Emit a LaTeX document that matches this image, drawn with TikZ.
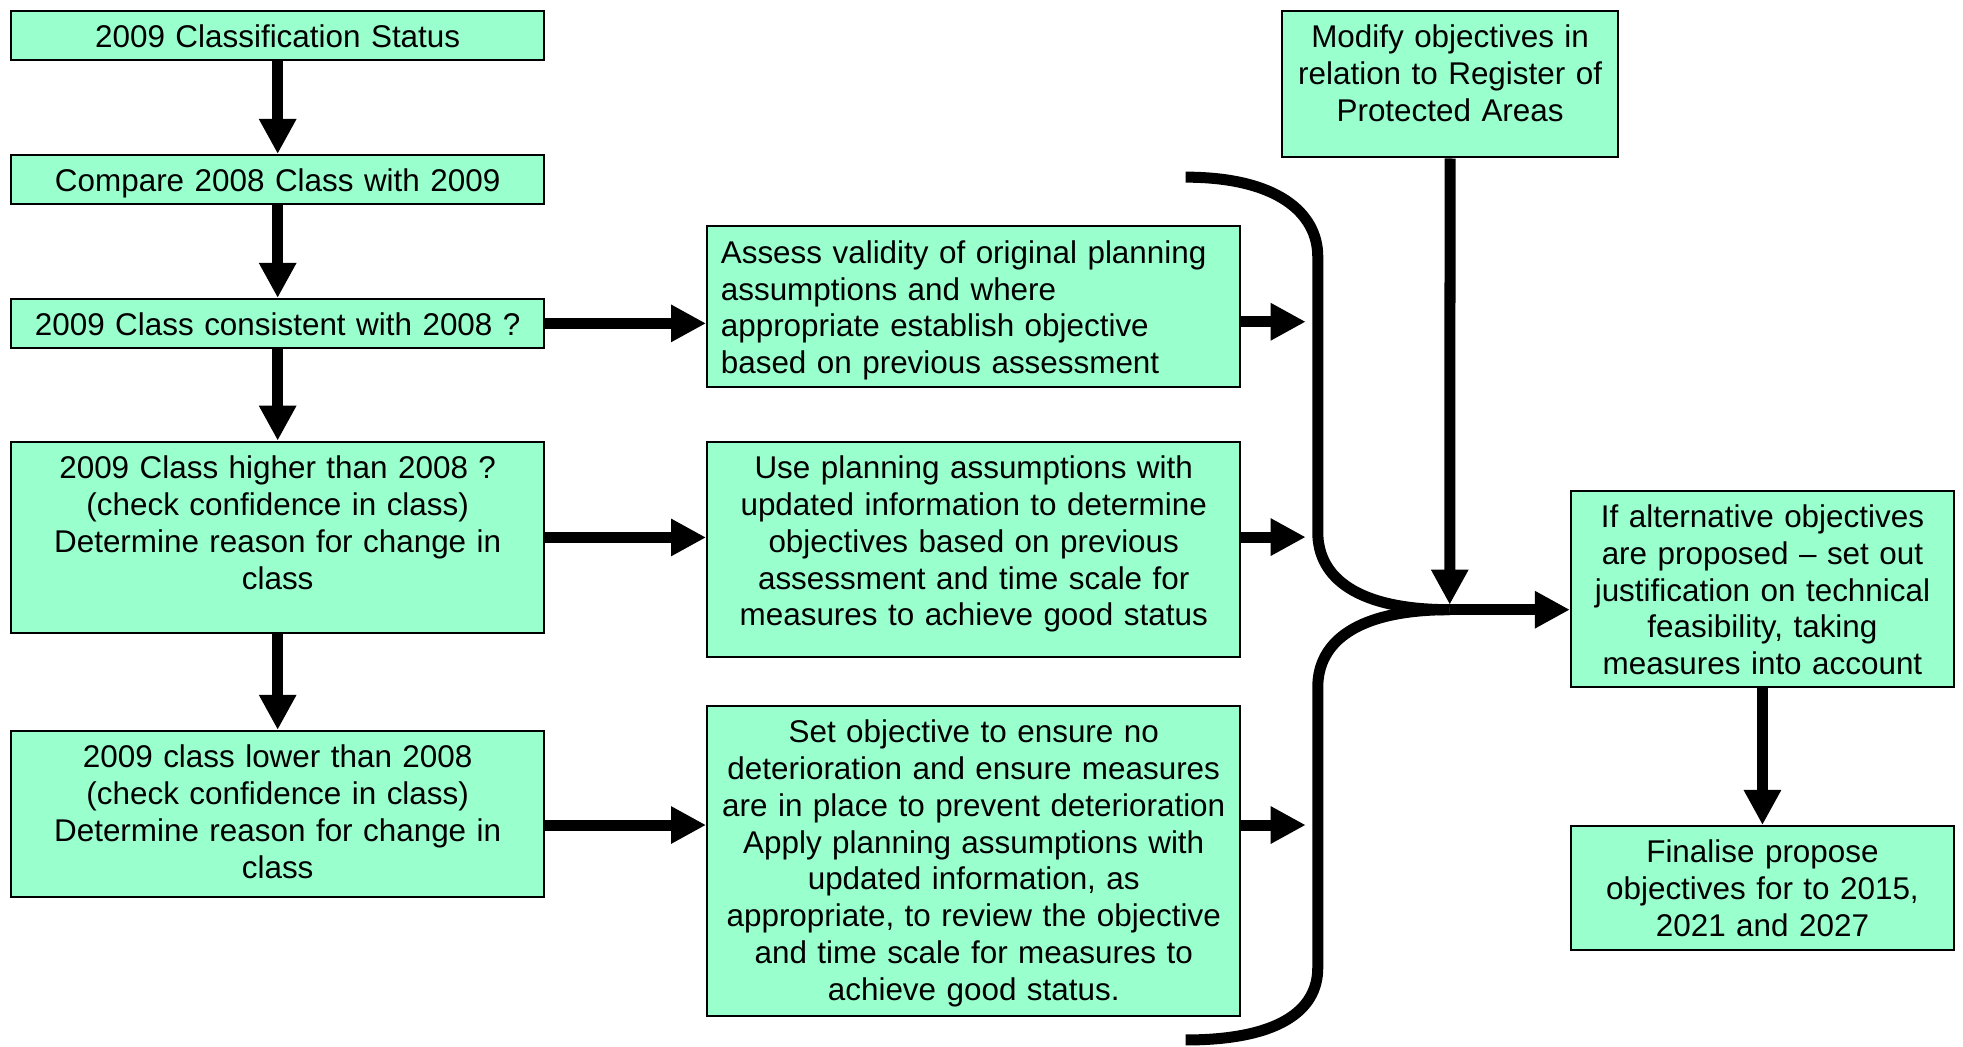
\documentclass[tikz,border=0pt]{standalone}
\usepackage{fontspec}
\setmainfont{Liberation Sans}
\usetikzlibrary{arrows.meta}
\definecolor{mint}{HTML}{99FFCC}

\begin{document}
\begin{tikzpicture}[x=1pt, y=-1pt,
		box/.style={draw, fill=mint, line width=1.6pt, anchor=north west, inner xsep=5pt, inner ysep=0pt, text width=#1, align=center, text height=29.5pt, font=\fontsize{25.1}{29.4}\selectfont},
		arr/.style={line width=8.8pt, -{Triangle[width=28pt, length=28pt]}},
		brace/.style={line width=8.8pt}]
			\useasboundingbox (0,0) rectangle (1568,836);

			\node (status) [box=416, text depth=9.5pt] at (8,8) {2009 Classification Status};
			\node (compare) [box=416, text depth=9.5pt] at (8,123) {Compare 2008 Class with 2009};
			\node (same) [box=416, text depth=9.5pt] at (8,238) {2009 Class consistent with 2008 ?};
			\node (higher) [box=416, text depth=123.5pt] at (8,352) {2009 Class higher than 2008 ?\\(check confidence in class)\\Determine reason for change in\\class};
			\node (lower) [box=416, text depth=103.5pt] at (8,583) {2009 class lower than 2008\\(check confidence in class)\\Determine reason for change in\\class};

			\node (assess) [box=404, inner xsep=11pt, align=left, text depth=98.5pt] at (564,180) {Assess validity of original planning\\assumptions and where\\appropriate establish objective\\based on previous assessment};
			\node (useplan) [box=416, text depth=142.5pt] at (564,352) {Use planning assumptions with\\updated information to determine\\objectives based on previous\\assessment and time scale for\\measures to achieve good status};
			\node (noworse) [box=416, text depth=218.5pt] at (564,563) {Set objective to ensure no\\deterioration and ensure measures\\are in place to prevent deterioration\\Apply planning assumptions with\\updated information, as\\appropriate, to review the objective\\and time scale for measures to\\achieve good status.};

			\node (protect) [box=259, text depth=87.5pt] at (1023,8) {Modify objectives in\\relation to Register of\\Protected Areas};
			\node (justify) [box=296, text depth=127.5pt] at (1254,391) {If alternative objectives\\are proposed -- set out\\justification on technical\\feasibility, taking\\measures into account};
			\node (final) [box=296, text depth=69.5pt] at (1254,659) {Finalise propose\\objectives for to 2015,\\2021 and 2027};

			\coordinate (b1) at (1043,257);
			\coordinate (b2) at (1043,429);
			\coordinate (b3) at (1043,659);
			\coordinate (join) at (1158,487);

			\draw [arr] (status.south) -- (compare.north);
			\draw [arr] (compare.south) -- (same.north);
			\draw [arr] (same.south) -- (higher.north);
			\draw [arr] (higher.south) -- (lower.north);

			\draw [arr] (same.east) -- (same.east -| assess.west);
			\draw [arr] (higher.east) -- (higher.east -| useplan.west);
			\draw [arr] (b3 -| lower.east) -- (b3 -| noworse.west);

			\draw [arr] (b1 -| assess.east) -- (b1);
			\draw [arr] (b2 -| useplan.east) -- (b2);
			\draw [arr] (b3 -| noworse.east) -- (b3);

			\draw [brace] (947,141.5) .. controls (1020,141.5) and (1052.6,170) .. (1052.6,205) -- (1052.6,425) .. controls (1052.6,462) and (1085,487) .. (join);
			\draw [brace] (join) .. controls (1085,487) and (1052.6,512) .. (1052.6,549) -- (1052.6,773) .. controls (1052.6,808) and (1020,830.7) .. (947,830.7);

			\draw [arr, shorten >=4pt] (protect.south) -- (join);
			\draw [arr] (join) -- (join -| justify.west);
			\draw [arr] (justify.south) -- (final.north);
		\end{tikzpicture}
\end{document}
